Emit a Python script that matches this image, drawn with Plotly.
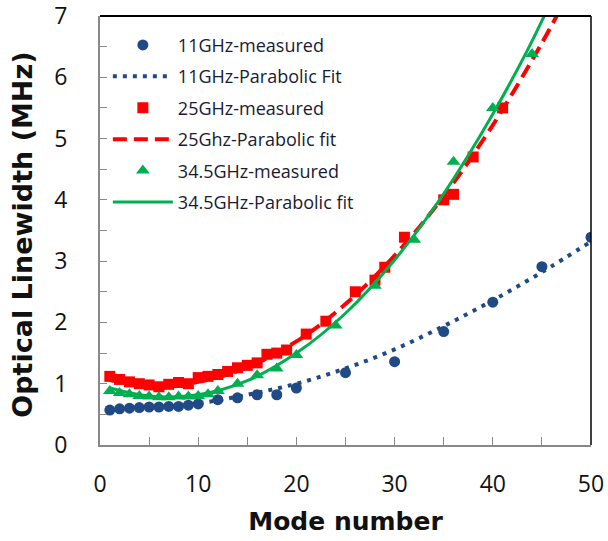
import plotly.graph_objects as go

# ---- data ----
x11 = [1, 2, 3, 4, 5, 6, 7, 8, 9, 10, 12, 14, 16, 18, 20, 25, 30, 35, 40, 45, 50]
y11 = [0.57, 0.59, 0.60, 0.61, 0.62, 0.62, 0.63, 0.63, 0.65, 0.67, 0.74, 0.77, 0.82, 0.82, 0.93,
       1.18, 1.36, 1.85, 2.33, 2.91, 3.39]

x25 = [1, 2, 3, 4, 5, 6, 7, 8, 9, 10, 11, 12, 13, 14, 15, 16, 17, 18, 19, 21, 23, 26, 28, 29, 31,
       35, 36, 38, 41]
y25 = [1.12, 1.07, 1.03, 1.00, 0.98, 0.95, 0.99, 1.02, 1.00, 1.10, 1.12, 1.15, 1.20, 1.26, 1.30,
       1.34, 1.48, 1.50, 1.55, 1.81, 2.02, 2.50, 2.69, 2.90, 3.39, 4.00, 4.09, 4.70, 5.50]

x34 = [1, 2, 3, 4, 5, 6, 7, 8, 9, 10, 11, 12, 14, 16, 18, 20, 24, 28, 32, 36, 40, 44]
y34 = [0.88, 0.85, 0.83, 0.80, 0.79, 0.78, 0.78, 0.79, 0.79, 0.80, 0.83, 0.88, 1.00, 1.14, 1.25,
       1.47, 1.95, 2.60, 3.35, 4.62, 5.50, 6.38]

xfit11 = [1, 5, 10, 15, 20, 25, 30, 35, 40, 45, 50]
yfit11 = [0.57, 0.60, 0.68, 0.82, 1.00, 1.25, 1.56, 1.94, 2.36, 2.82, 3.32]
xfit25 = [1, 5, 10, 15, 20, 25, 30, 35, 40, 45, 47]
yfit25 = [1.06, 0.97, 1.03, 1.27, 1.69, 2.30, 3.09, 4.06, 5.22, 6.56, 7.15]
xfit34 = [1, 5, 10, 15, 20, 25, 30, 35, 40, 45, 46]
yfit34 = [0.93, 0.80, 0.82, 1.05, 1.50, 2.15, 3.02, 4.10, 5.40, 6.92, 7.30]

names = ["11GHz-measured", "11GHz-Parabolic Fit", "25GHz-measured",
         "25Ghz-Parabolic fit", "34.5GHz-measured", "34.5GHz-Parabolic fit"]
x_title = "Mode number"
y_title = "Optical Linewidth (MHz)"

BLUE = "#1f4a86"
RED = "#ff0000"
GREEN = "#00b050"
FONT = "Open Sans"
TFONT = "DejaVu Sans"

fig = go.Figure()
fig.add_trace(go.Scatter(x=x11, y=y11, mode="markers", name=names[0], legendgroup="a",
                         marker=dict(symbol="circle", size=11, color=BLUE)))
fig.add_trace(go.Scatter(x=xfit11, y=yfit11, mode="lines", name=names[1], legendgroup="b",
                         line=dict(color=BLUE, width=4, dash="4px,6px", shape="spline")))
fig.add_trace(go.Scatter(x=x25, y=y25, mode="markers", name=names[2], legendgroup="c",
                         marker=dict(symbol="square", size=11, color=RED)))
fig.add_trace(go.Scatter(x=xfit25, y=yfit25, mode="lines", name=names[3], legendgroup="d",
                         line=dict(color=RED, width=4, dash="14px,7px", shape="spline")))
fig.add_trace(go.Scatter(x=x34, y=y34, mode="markers", name=names[4], legendgroup="e",
                         marker=dict(symbol="triangle-up", size=12, color=GREEN)))
fig.add_trace(go.Scatter(x=xfit34, y=yfit34, mode="lines", name=names[5], legendgroup="f",
                         line=dict(color=GREEN, width=3, shape="spline")))

fig.update_layout(
    width=608, height=541,
    margin=dict(l=100, r=17, t=16, b=96, autoexpand=False),
    paper_bgcolor="white", plot_bgcolor="white",
    font=dict(family=FONT, color="#111111"),
    showlegend=True,
    legend=dict(x=0.016, y=0.975, xanchor="left", yanchor="top",
                bgcolor="rgba(0,0,0,0)", itemwidth=60, tracegroupgap=5,
                font=dict(family=FONT, size=18, color="#1a1a33")),
    xaxis=dict(range=[0, 50], dtick=10, tick0=0, ticks="inside", ticklen=8, tickcolor="#888888",
               showline=True, linecolor="#888888", linewidth=2, showgrid=False, zeroline=False,
               automargin=False, ticklabeloverflow="allow",
               tickfont=dict(family=FONT, size=23, color="#111111"), ticklabelstandoff=17,
               minor=dict(dtick=5, ticks="inside", ticklen=8, tickcolor="#888888"),
               title=dict(text="<b>" + x_title + "</b>",
                          font=dict(family=TFONT, size=25, color="#111111"), standoff=15)),
    yaxis=dict(range=[0, 7], dtick=1, tick0=0, ticks="inside", ticklen=7, tickcolor="#888888",
               showline=True, linecolor="#888888", linewidth=2, showgrid=False, zeroline=False,
               automargin=False, ticklabeloverflow="allow",
               tickfont=dict(family=FONT, size=23, color="#111111"), ticklabelstandoff=26,
               minor=dict(dtick=0.5, ticks="inside", ticklen=7, tickcolor="#888888")),
    annotations=[
        dict(text="<b>" + y_title + "</b>", xref="paper", yref="paper",
             x=-0.157, y=0.49, xanchor="center", yanchor="middle", textangle=-90,
             showarrow=False, font=dict(family=TFONT, size=27, color="#111111")),
    ],
    shapes=[
        dict(type="line", xref="paper", yref="paper", x0=0, x1=1, y0=1, y1=1,
             line=dict(color="black", width=2)),
        dict(type="line", xref="paper", yref="paper", x0=1, x1=1, y0=0, y1=1,
             line=dict(color="black", width=1.5)),
    ],
)

fig.write_html("out.html")
